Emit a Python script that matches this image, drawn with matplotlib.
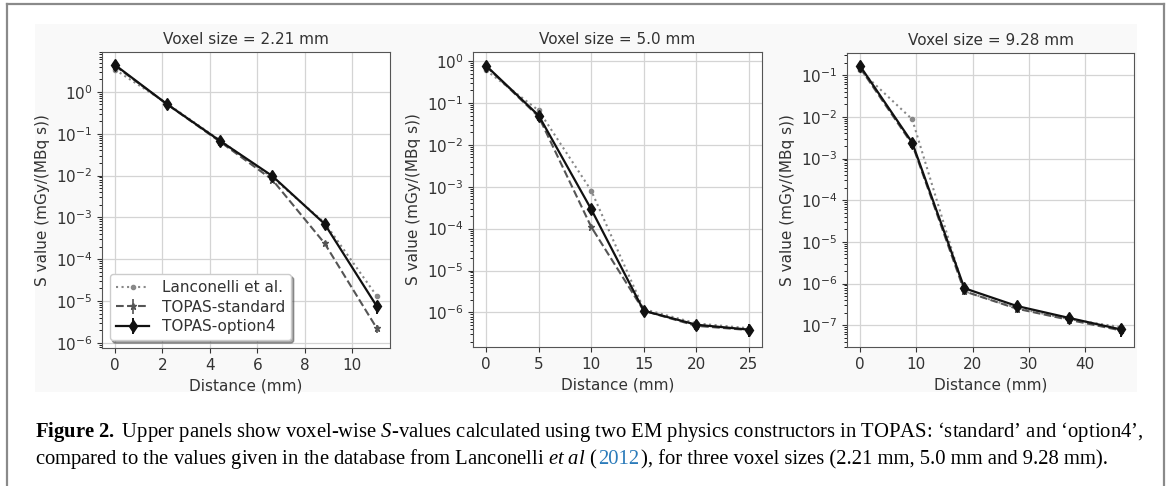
import numpy as np
import matplotlib.pyplot as plt
from matplotlib.lines import Line2D
from matplotlib.patches import Rectangle

# distances (mm) per voxel size
x_221 = [0, 2.21, 4.42, 6.63, 8.84, 11.05]
x_50 = [0, 5, 10, 15, 20, 25]
x_928 = [0, 9.28, 18.56, 27.84, 37.12, 46.4]

# S values (mGy/(MBq s))
lanc_221 = [3.4, 0.52, 0.07, 0.009, 7.5e-4, 1.3e-5]
std_221 = [4.2, 0.5, 0.065, 0.008, 2.4e-4, 2.2e-6]
opt4_221 = [4.4, 0.5, 0.068, 0.0098, 7.0e-4, 7.4e-6]

lanc_50 = [0.6, 0.066, 8.1e-4, 1.2e-6, 5.5e-7, 4.2e-7]
std_50 = [0.75, 0.047, 1.1e-4, 1.1e-6, 4.8e-7, 3.8e-7]
opt4_50 = [0.77, 0.05, 2.9e-4, 1.1e-6, 5.1e-7, 3.9e-7]

lanc_928 = [0.13, 8.7e-3, 6.5e-7, 2.6e-7, 1.4e-7, 9.0e-8]
std_928 = [0.15, 2.2e-3, 6.5e-7, 2.5e-7, 1.35e-7, 7.5e-8]
opt4_928 = [0.166, 2.4e-3, 7.7e-7, 2.9e-7, 1.5e-7, 7.9e-8]

# relative uncertainties of the TOPAS points
err_std = [0.15, 0.15, 0.12, 0.12, 0.15, 0.2]
err_opt4 = [0.15, 0.15, 0.12, 0.15, 0.15, 0.35]

titles = ["Voxel size = 2.21 mm", "Voxel size = 5.0 mm", "Voxel size = 9.28 mm"]
xticks = [[0, 2, 4, 6, 8, 10], [0, 5, 10, 15, 20, 25], [0, 10, 20, 30, 40]]
ylims = [(7.5e-7, 9.0), (1.5e-7, 1.64), (3e-8, 0.34)]

W, H = 1176, 486
plt.rcParams["font.family"] = "DejaVu Sans"
plt.rcParams["font.size"] = 11
# serif math font only used by the caption (math_fontfamily="custom")
plt.rcParams["mathtext.rm"] = "Liberation Serif"
plt.rcParams["mathtext.it"] = "Liberation Serif:italic"
plt.rcParams["mathtext.bf"] = "Liberation Serif:bold"
fig = plt.figure(figsize=(W / 100, H / 100), dpi=100)
fig.patch.set_facecolor("white")

# faint background of the embedded figure and the outer frame
fig.patches.append(Rectangle((35 / W, 1 - 392 / H), (1137 - 35) / W, (392 - 24) / H,
                             transform=fig.transFigure, facecolor="#f9f9f9",
                             edgecolor="none", zorder=-5))
for xs, ys in [([7, 7], [4, 486]), ([7, 1164], [4, 4]), ([1164, 1164], [4, 486])]:
    fig.add_artist(Line2D([v / W for v in xs], [1 - v / H for v in ys],
                          transform=fig.transFigure, color="#8a8a8a", lw=1.6))

boxes = [(102, 52, 390, 348), (473, 52, 762, 347), (847, 53, 1134, 347)]
data = [(x_221, lanc_221, std_221, opt4_221),
        (x_50, lanc_50, std_50, opt4_50),
        (x_928, lanc_928, std_928, opt4_928)]

for i, (l, t, r, b) in enumerate(boxes):
    ax = fig.add_axes([l / W, 1 - b / H, (r - l) / W, (b - t) / H])
    ax.set_facecolor("white")
    x, lanc, std, opt4 = data[i]
    std = np.array(std)
    opt4 = np.array(opt4)
    ax.plot(x, lanc, ":", marker="o", ms=3, color="#888888", lw=1.5,
            label="Lanconelli et al.")
    ax.errorbar(x, std, yerr=std * np.array(err_std), fmt="--", marker="*", ms=5,
                color="#555555", lw=1.5, elinewidth=1.2, capsize=0,
                label="TOPAS-standard")
    ax.errorbar(x, opt4, yerr=opt4 * np.array(err_opt4), fmt="-", marker="d", ms=6,
                color="#111111", lw=1.6, elinewidth=1.4, capsize=0,
                label="TOPAS-option4")
    ax.set_yscale("log")
    ax.set_ylim(*ylims[i])
    ax.set_xticks(xticks[i])
    ax.grid(True, which="major", color="#d4d4d4", lw=0.9)
    ax.set_axisbelow(True)
    for s in ax.spines.values():
        s.set_color("#555555")
    ax.tick_params(colors="#333333", labelcolor="#333333")
    ax.set_title(titles[i], color="#333333", fontsize=11)
    ax.set_xlabel("Distance (mm)", color="#333333")
    ax.set_ylabel("S value (mGy/(MBq s))", color="#333333")
    if i == 0:
        leg = ax.legend(loc="lower left", shadow=True, fontsize=11,
                        handlelength=2.2, borderpad=0.4, labelspacing=0.3)
        for txt in leg.get_texts():
            txt.set_color("#333333")

# caption
fig.canvas.draw()
renderer = fig.canvas.get_renderer()
cap_fs = 14.9
cap_kw = dict(fontsize=cap_fs, family="Liberation Serif", math_fontfamily="custom",
              va="baseline")

line1 = (r"$\mathbf{Figure\ 2.}$ Upper panels show voxel-wise $\mathit{S}$-values calculated "
         "using two EM physics constructors in TOPAS: \u2018standard\u2019 and \u2018option4\u2019,")
fig.text(35 / W, 1 - 437 / H, line1, **cap_kw)

line2 = [(r"compared to the values given in the database from Lanconelli $\mathit{et\ al}$ (", "black"),
         ("2012", "#2b7bba"),
         ("), for three voxel sizes (2.21 mm, 5.0 mm and 9.28 mm).", "black")]
xpos = 35
for text, color in line2:
    tx = fig.text(xpos / W, 1 - 464 / H, text, color=color, **cap_kw)
    xpos += tx.get_window_extent(renderer).width + 1

fig.savefig("out.png", dpi=100)
